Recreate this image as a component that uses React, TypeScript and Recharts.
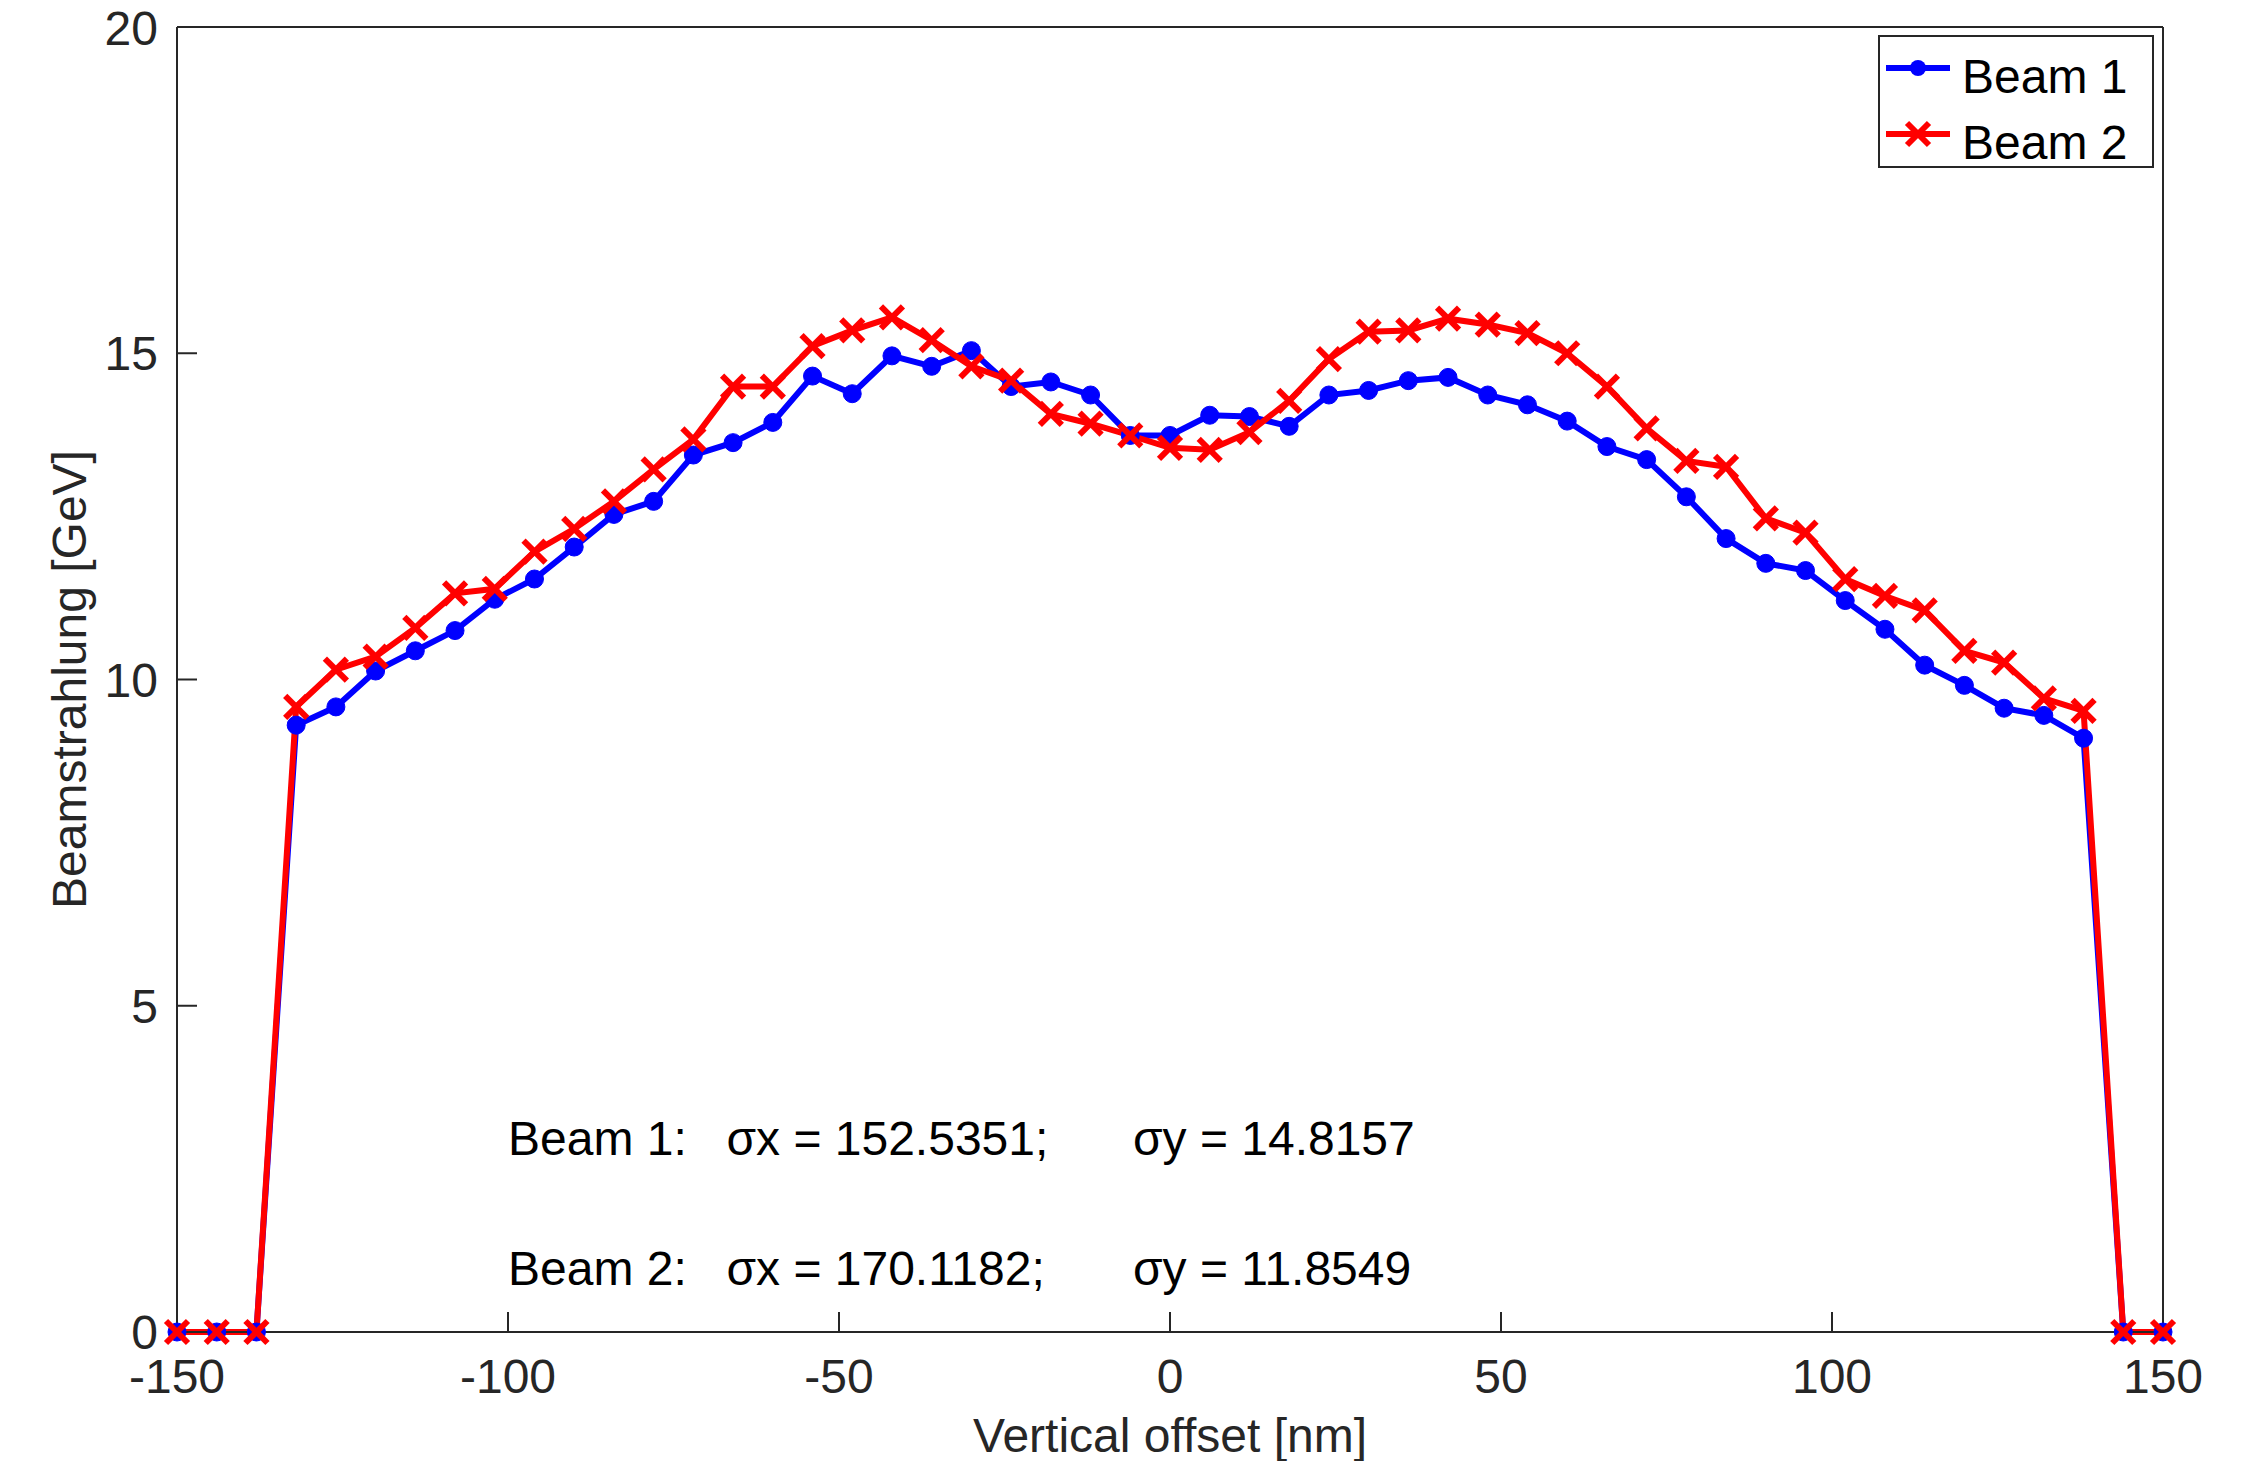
import { LineChart, Line, XAxis, YAxis, Legend, ReferenceDot } from "recharts";

const offsets = [
  -150, -144, -138, -132, -126, -120, -114, -108, -102, -96, -90, -84, -78,
  -72, -66, -60, -54, -48, -42, -36, -30, -24, -18, -12, -6, 0, 6, 12, 18,
  24, 30, 36, 42, 48, 54, 60, 66, 72, 78, 84, 90, 96, 102, 108, 114, 120,
  126, 132, 138, 144, 150,
];

const beam1 = [
  0, 0, 0, 9.3, 9.58, 10.13, 10.44, 10.75, 11.23, 11.54, 12.03, 12.53, 12.73,
  13.44, 13.63, 13.94, 14.65, 14.38, 14.96, 14.8, 15.04, 14.49, 14.56,
  14.36, 13.74, 13.74, 14.05, 14.03, 13.88, 14.36, 14.43, 14.58, 14.63,
  14.36, 14.21, 13.96, 13.57, 13.37, 12.8, 12.16, 11.78, 11.67, 11.21,
  10.77, 10.22, 9.91, 9.56, 9.45, 9.1, 0, 0,
];

const beam2 = [
  0, 0, 0, 9.58, 10.15, 10.35, 10.79, 11.32, 11.39, 11.96, 12.31, 12.73, 13.22,
  13.68, 14.49, 14.49, 15.11, 15.35, 15.55, 15.2, 14.8, 14.58, 14.07,
  13.92, 13.74, 13.55, 13.52, 13.79, 14.27, 14.91, 15.33, 15.35, 15.53,
  15.44, 15.31, 15.0, 14.49, 13.85, 13.35, 13.26, 12.47, 12.25, 11.54,
  11.28, 11.06, 10.44, 10.26, 9.71, 9.52, 0, 0,
];

const xTicks = [-150, -100, -50, 0, 50, 100, 150];
const yTicks = [0, 5, 10, 15, 20];

const seriesNames = ["Beam 1", "Beam 2"];
const seriesColors = ["#0000ff", "#ff0000"];

// annotation text (MATLAB text() at data coords)
const noteRows = [
  ["Beam 1:", "σx = 152.5351;", "σy = 14.8157"],
  ["Beam 2:", "σx = 170.1182;", "σy = 11.8549"],
];
const noteRowY = [2.97, 0.98];
const noteColX = [-100, -67, -5.6];

const FONT = '"Liberation Sans", Arial, Helvetica, sans-serif';
const AXIS = "#262626";
const FS = 48;

const data = offsets.map((x, i) => ({ x, b1: beam1[i], b2: beam2[i] }));

function CrossDot(props: any) {
  const { cx, cy, stroke } = props;
  if (cx == null || cy == null) return null;
  const s = 11;
  return (
    <g>
      <line x1={cx - s} y1={cy - s} x2={cx + s} y2={cy + s} stroke={stroke} strokeWidth={6} />
      <line x1={cx - s} y1={cy + s} x2={cx + s} y2={cy - s} stroke={stroke} strokeWidth={6} />
    </g>
  );
}

function LegendBox() {
  return (
    <svg width={276} height={133} style={{ display: "block" }}>
      <rect x={1} y={1} width={274} height={131} fill="#fff" stroke={AXIS} strokeWidth={2} />
      {seriesNames.map((name, i) => {
        const cy = 33 + i * 66;
        return (
          <g key={name}>
            <line x1={8} y1={cy} x2={72} y2={cy} stroke={seriesColors[i]} strokeWidth={6} />
            {i === 0 ? (
              <circle cx={40} cy={cy} r={8} fill={seriesColors[i]} />
            ) : (
              <CrossDot cx={40} cy={cy} stroke={seriesColors[i]} />
            )}
            <text x={84} y={cy + 8} dominantBaseline="central" fontSize={FS} fontFamily={FONT} fill="#000">
              {name}
            </text>
          </g>
        );
      })}
    </svg>
  );
}

export default function App() {
  const tickStyle = { fill: AXIS, fontSize: FS, fontFamily: FONT };
  const lineStyle = { stroke: AXIS, strokeWidth: 2 };
  return (
    <div style={{ position: "absolute", left: 0, top: 0, background: "#fff" }}>
      <LineChart
        width={2254}
        height={1461}
        data={data}
        margin={{ top: 17, right: 81, left: 117, bottom: 29 }}
      >
        <XAxis
          dataKey="x"
          type="number"
          domain={[-150, 150]}
          ticks={xTicks}
          height={100}
          tickSize={-20}
          tickMargin={47}
          tick={tickStyle}
          axisLine={lineStyle}
          tickLine={lineStyle}
          label={{
            content: ({ viewBox }: any) => (
              <text
                x={viewBox.x + viewBox.width / 2}
                y={viewBox.y + 120}
                textAnchor="middle"
                fontSize={FS}
                fontFamily={FONT}
                fill={AXIS}
              >
                Vertical offset [nm]
              </text>
            ),
          }}
        />
        <XAxis
          xAxisId="top"
          orientation="top"
          type="number"
          domain={[-150, 150]}
          ticks={xTicks}
          height={10}
          tickSize={-20}
          tick={false}
          axisLine={lineStyle}
          tickLine={lineStyle}
        />
        <YAxis
          type="number"
          domain={[0, 20]}
          ticks={yTicks}
          width={60}
          tickSize={-20}
          tickMargin={39}
          tick={tickStyle}
          axisLine={lineStyle}
          tickLine={lineStyle}
          label={{
            content: ({ viewBox }: any) => {
              const cx = viewBox.x + viewBox.width - 108;
              const cy = viewBox.y + viewBox.height / 2;
              return (
                <text
                  x={cx}
                  y={cy}
                  transform={`rotate(-90 ${cx} ${cy})`}
                  textAnchor="middle"
                  dominantBaseline="central"
                  fontSize={FS}
                  fontFamily={FONT}
                  fill={AXIS}
                >
                  Beamstrahlung [GeV]
                </text>
              );
            },
          }}
        />
        <YAxis
          yAxisId="right"
          orientation="right"
          type="number"
          domain={[0, 20]}
          ticks={yTicks}
          width={10}
          tickSize={-20}
          tick={false}
          axisLine={lineStyle}
          tickLine={lineStyle}
        />
        <Legend
          layout="horizontal"
          verticalAlign="middle"
          align="center"
          wrapperStyle={{ left: 1878, top: 35, width: 276, height: 133 }}
          content={() => <LegendBox />}
        />
        <Line
          dataKey="b1"
          name={seriesNames[0]}
          type="linear"
          stroke={seriesColors[0]}
          strokeWidth={6}
          dot={{ r: 9, fill: seriesColors[0], stroke: seriesColors[0], strokeWidth: 1 }}
          isAnimationActive={false}
        />
        <Line
          dataKey="b2"
          name={seriesNames[1]}
          type="linear"
          stroke={seriesColors[1]}
          strokeWidth={6}
          dot={(p: any) => <CrossDot key={p.index} cx={p.cx} cy={p.cy} stroke={seriesColors[1]} />}
          isAnimationActive={false}
        />
        {noteRows.map((row, r) =>
          row.map((txt, c) => (
            <ReferenceDot
              key={`${r}-${c}`}
              x={noteColX[c]}
              y={noteRowY[r]}
              r={0}
              fill="none"
              stroke="none"
              label={{
                content: ({ viewBox }: any) => (
                  <text
                    x={viewBox.x + viewBox.width / 2}
                    y={viewBox.y + viewBox.height / 2}
                    dominantBaseline="central"
                    fontSize={FS}
                    fontFamily={FONT}
                    fill="#000"
                  >
                    {txt}
                  </text>
                ),
              }}
            />
          ))
        )}
      </LineChart>
    </div>
  );
}
